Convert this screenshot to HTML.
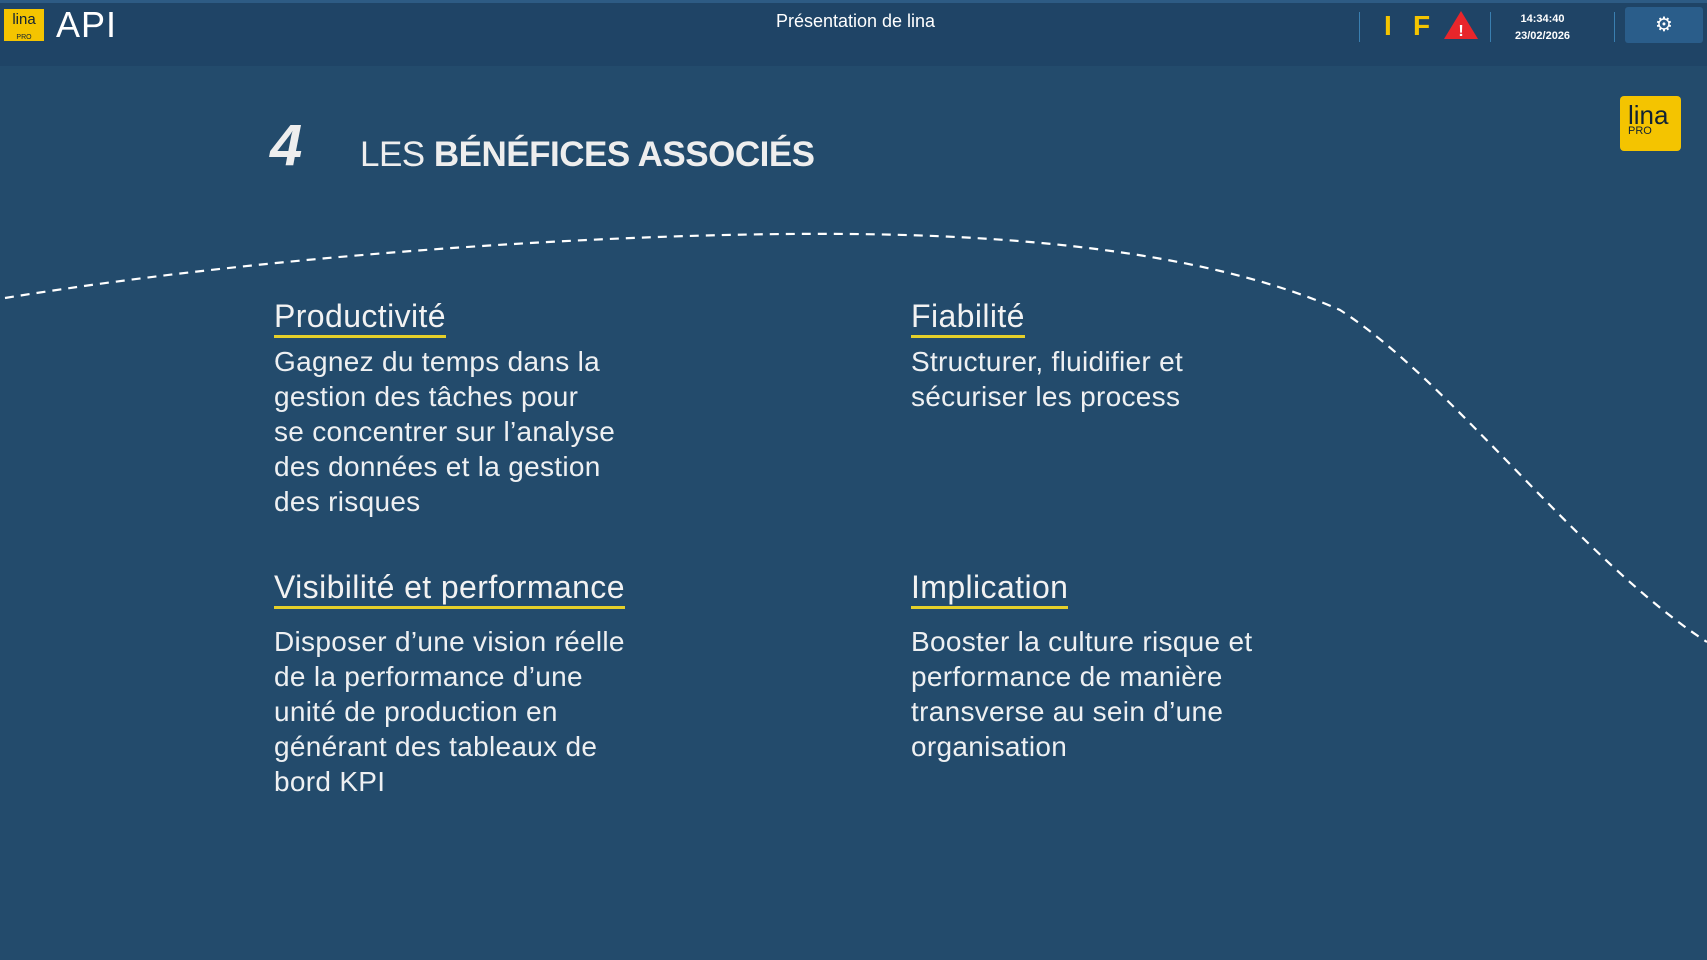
<!DOCTYPE html>
<html><head><meta charset="utf-8"><style>
body{margin:0;width:1707px;height:960px;overflow:hidden;background:#234b6c;font-family:"Liberation Sans",sans-serif;color:#fff;position:relative}
.hdr{position:absolute;left:0;top:0;width:1707px;height:66px;background:#1f4466;border-top:3px solid #2d5b84;box-sizing:border-box}
.abs{position:absolute}
h3{position:absolute;margin:0;font-weight:normal;font-size:32px;letter-spacing:0.4px;line-height:36px;color:#f2f2f2}
h3 span{border-bottom:3px solid #e5d02a;padding-bottom:1px}
p{position:absolute;margin:0;font-size:28px;letter-spacing:0.3px;line-height:35px;color:#eef0f2}
</style></head><body>
<div class="hdr"></div>
<div class="abs" style="left:4px;top:9px;width:40px;height:32px;background:#f4c400;color:#123;font-size:15px;line-height:15px;text-align:center;padding-top:3px;box-sizing:border-box">lina<br><span style="font-size:7px">PRO</span></div>
<div class="abs" style="left:56px;top:4px;font-size:36px;color:#fff;letter-spacing:1px">API</div>
<div class="abs" style="left:0;width:1707px;top:11px;text-align:center;font-size:18px"><span style="position:relative;left:2px">Présentation de lina</span></div>
<div class="abs" style="left:1359px;top:12px;width:1px;height:30px;background:#3a7fb0"></div>
<div class="abs" style="left:1384px;top:10px;font-size:28px;font-weight:bold;color:#f4c400">I</div>
<div class="abs" style="left:1413px;top:10px;font-size:28px;font-weight:bold;color:#f4c400">F</div>
<svg class="abs" style="left:1443px;top:10px" width="36" height="30"><polygon points="18,1 35,29 1,29" fill="#e8262b"/><text x="18" y="26" font-size="16" font-weight="bold" fill="#fff" text-anchor="middle" font-family="Liberation Sans">!</text></svg>
<div class="abs" style="left:1490px;top:12px;width:1px;height:30px;background:#3a7fb0"></div>
<div class="abs" style="left:1515px;top:11px;font-size:11px;font-weight:bold;line-height:17px;text-align:center">14:34:40<br>23/02/2026</div>
<div class="abs" style="left:1614px;top:12px;width:1px;height:30px;background:#3a7fb0"></div>
<div class="abs" style="left:1625px;top:7px;width:78px;height:36px;background:#2a5d8a;border-radius:3px;text-align:center;font-size:20px;line-height:36px">⚙</div>
<div class="abs" style="left:1620px;top:96px;width:61px;height:55px;background:#f4c400;border-radius:4px;color:#123;box-sizing:border-box;padding:8px 0 0 8px;font-size:26px;line-height:22px">lina<br><span style="font-size:11px;line-height:11px;display:block">PRO</span></div>
<div class="abs" style="left:270px;top:112px;font-size:58px;font-weight:900;font-style:italic;color:#eee;letter-spacing:-2px">4</div>
<div class="abs" style="left:360px;top:135px;font-size:35px;color:#eee;letter-spacing:-0.5px"><span>LES </span><b style="font-weight:900">BÉNÉFICES ASSOCIÉS</b></div>
<svg class="abs" style="left:0;top:0" width="1707" height="960"><path d="M5,298 C300,250 650,232 850,234 C1100,236 1250,270 1340,310 C1450,380 1580,560 1707,642" fill="none" stroke="#fff" stroke-width="2.2" stroke-dasharray="9,7"/></svg>
<h3 style="left:274px;top:298px"><span>Productivité</span></h3>
<p style="left:274px;top:344px">Gagnez du temps dans la<br>gestion des tâches pour<br>se concentrer sur l’analyse<br>des données et la gestion<br>des risques</p>
<h3 style="left:911px;top:298px"><span>Fiabilité</span></h3>
<p style="left:911px;top:344px">Structurer, fluidifier et<br>sécuriser les process</p>
<h3 style="left:274px;top:569px"><span>Visibilité et performance</span></h3>
<p style="left:274px;top:624px">Disposer d’une vision réelle<br>de la performance d’une<br>unité de production en<br>générant des tableaux de<br>bord KPI</p>
<h3 style="left:911px;top:569px"><span>Implication</span></h3>
<p style="left:911px;top:624px">Booster la culture risque et<br>performance de manière<br>transverse au sein d’une<br>organisation</p>
</body></html>
